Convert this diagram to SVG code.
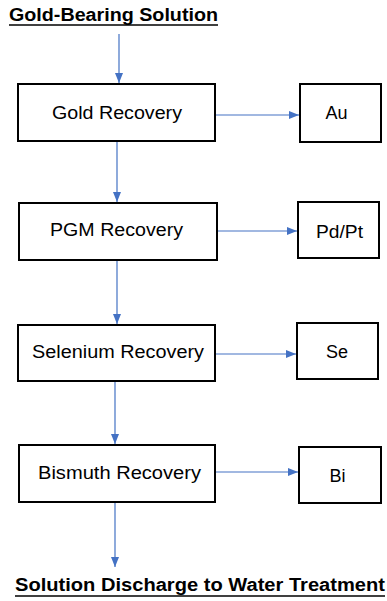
<svg xmlns="http://www.w3.org/2000/svg" width="387" height="601" viewBox="0 0 387 601">
<defs>
<marker id="ah" markerWidth="10" markerHeight="8" refX="10" refY="4" orient="auto" markerUnits="userSpaceOnUse">
<path d="M0,0 L10,4 L0,8 Z" fill="#4472C4"/>
</marker>
</defs>
<style>
.box{fill:#fff;stroke:#000;stroke-width:2}
.lbl{font-family:"Liberation Sans",Arial,sans-serif;font-size:18px;fill:#000;text-anchor:middle}
.ttl{font-family:"Liberation Sans",Arial,sans-serif;font-size:18px;font-weight:bold;fill:#000}
.ul{stroke:#000;stroke-width:1.5}
.con{stroke:#4472C4;stroke-width:1.2;fill:none;marker-end:url(#ah)}
</style>
<rect width="387" height="601" fill="#fff"/>
<g id="title-top">
<text class="ttl" x="9" y="21" textLength="209" lengthAdjust="spacingAndGlyphs">Gold-Bearing Solution</text>
<line class="ul" x1="9" y1="25" x2="218" y2="25"/>
</g>
<g id="title-bottom">
<text class="ttl" x="15" y="591" textLength="370" lengthAdjust="spacingAndGlyphs">Solution Discharge to Water Treatment</text>
<line class="ul" x1="15" y1="596" x2="385" y2="596"/>
</g>
<g id="gold">
<rect class="box" x="18" y="84" width="197" height="57"/>
<text class="lbl" x="117" y="119" textLength="130" lengthAdjust="spacingAndGlyphs">Gold Recovery</text>
</g>
<g id="au">
<rect class="box" x="300" y="84" width="81" height="58"/>
<text class="lbl" x="336.5" y="119">Au</text>
</g>
<g id="pgm">
<rect class="box" x="19" y="203" width="198" height="57"/>
<text class="lbl" x="116.5" y="236" textLength="133" lengthAdjust="spacingAndGlyphs">PGM Recovery</text>
</g>
<g id="pdpt">
<rect class="box" x="298" y="202" width="81" height="56"/>
<text class="lbl" x="339.5" y="238" textLength="47" lengthAdjust="spacingAndGlyphs">Pd/Pt</text>
</g>
<g id="selenium">
<rect class="box" x="18" y="325" width="197" height="56"/>
<text class="lbl" x="118" y="358" textLength="172" lengthAdjust="spacingAndGlyphs">Selenium Recovery</text>
</g>
<g id="se">
<rect class="box" x="297" y="323" width="81" height="56"/>
<text class="lbl" x="337" y="358">Se</text>
</g>
<g id="bismuth">
<rect class="box" x="19" y="445" width="196" height="57"/>
<text class="lbl" x="119.5" y="479" textLength="163" lengthAdjust="spacingAndGlyphs">Bismuth Recovery</text>
</g>
<g id="bi">
<rect class="box" x="299" y="447" width="82" height="56"/>
<text class="lbl" x="337.5" y="482">Bi</text>
</g>
<g id="connectors">
<line class="con" x1="119" y1="34" x2="119" y2="83"/>
<line class="con" x1="216" y1="115" x2="299" y2="115"/>
<line class="con" x1="117" y1="142" x2="117" y2="202"/>
<line class="con" x1="218" y1="231" x2="297" y2="231"/>
<line class="con" x1="117" y1="261" x2="117" y2="324"/>
<line class="con" x1="216" y1="354" x2="296" y2="354"/>
<line class="con" x1="115" y1="382" x2="115" y2="444"/>
<line class="con" x1="216" y1="472" x2="298" y2="472"/>
<line class="con" x1="115" y1="503" x2="115" y2="567"/>
</g>
</svg>
